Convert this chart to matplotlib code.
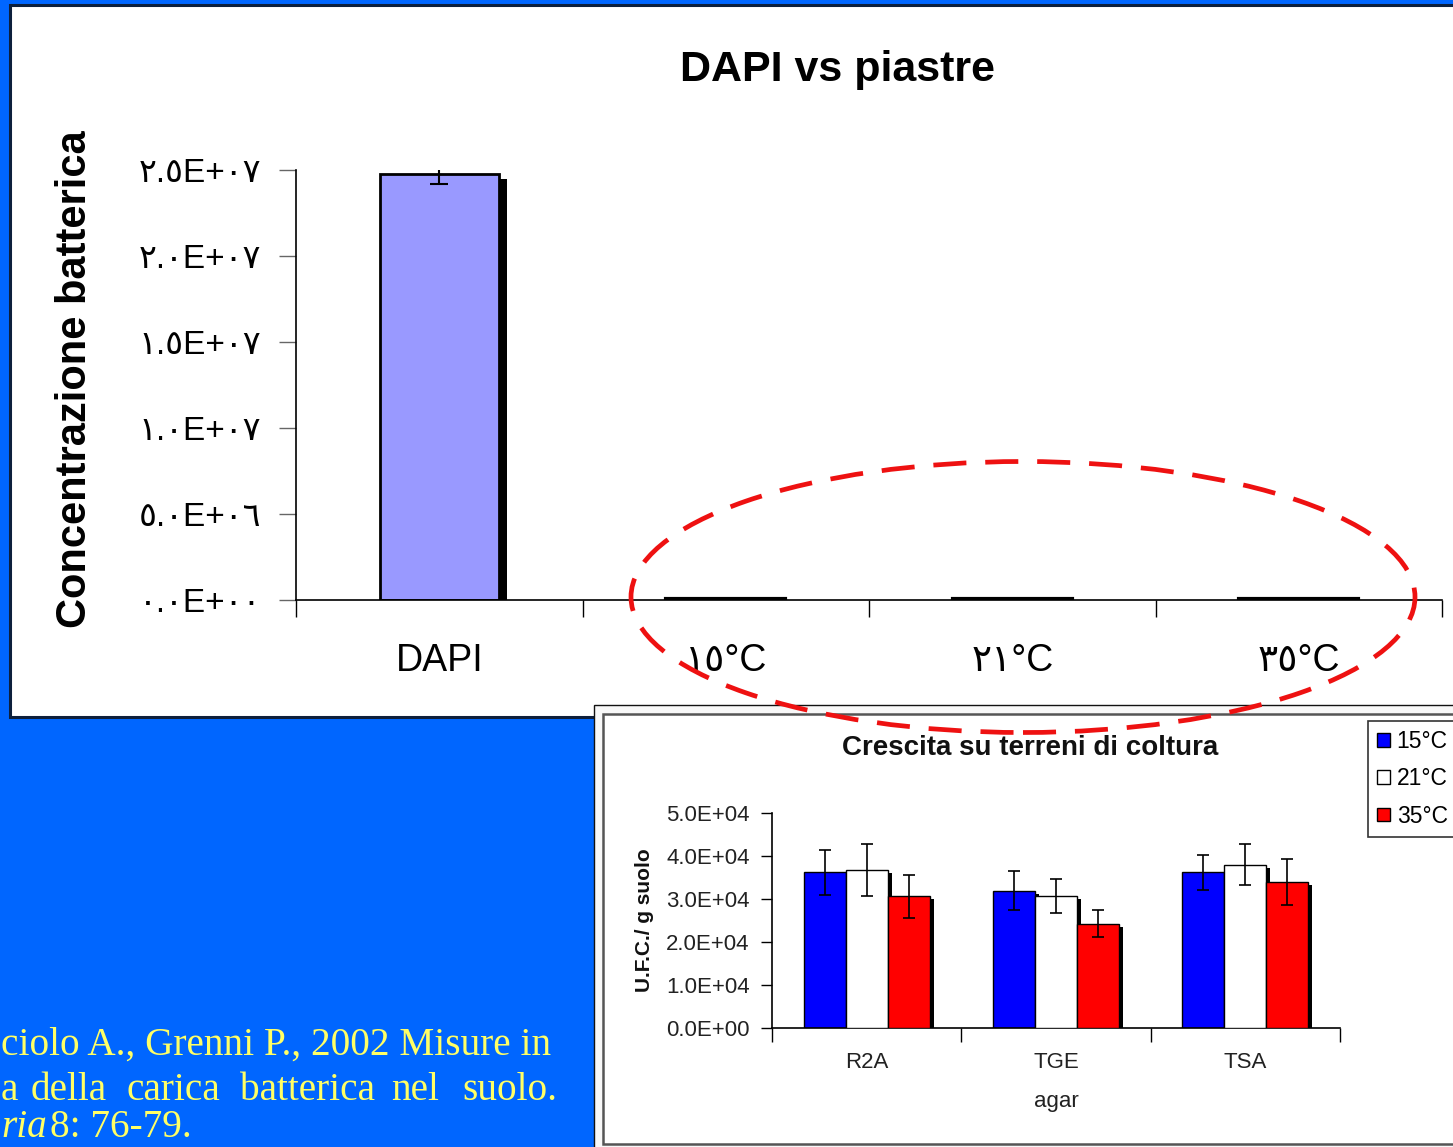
import matplotlib
matplotlib.use("Agg")
import matplotlib.pyplot as plt
import matplotlib.transforms as mtransforms
from matplotlib.patches import Rectangle, Ellipse, Patch
import numpy as np

# main chart data
main_cats = ["DAPI", "١٥°C", "٢١°C", "٣٥°C"]
main_vals = [2.477e7, 3.48e4, 3.52e4, 2.96e4]
main_err = [5.8e5, 0, 0, 0]
main_yticks = [0, 5e6, 1e7, 1.5e7, 2e7, 2.5e7]
main_yticklabels = ["٠.٠E+٠٠", "٥.٠E+٠٦", "١.٠E+٠٧", "١.٥E+٠٧", "٢.٠E+٠٧", "٢.٥E+٠٧"]

# inset chart data
agar = ["R2A", "TGE", "TSA"]
temps = ["15°C", "21°C", "35°C"]
ufc = {
    "15°C": [3.62e4, 3.19e4, 3.62e4],
    "21°C": [3.68e4, 3.07e4, 3.80e4],
    "35°C": [3.06e4, 2.43e4, 3.40e4],
}
ufc_err = {
    "15°C": [5.2e3, 4.5e3, 4.1e3],
    "21°C": [6.0e3, 3.9e3, 4.8e3],
    "35°C": [5.0e3, 3.2e3, 5.4e3],
}
temp_colors = ["#0000FF", "#FFFFFF", "#FF0000"]
inset_yticks = [0, 1e4, 2e4, 3e4, 4e4, 5e4]
inset_yticklabels = ["0.0E+00", "1.0E+04", "2.0E+04", "3.0E+04", "4.0E+04", "5.0E+04"]

W, H = 1453, 1147
fig = plt.figure(figsize=(W / 100, H / 100), dpi=100, facecolor="#0066FF")
fam = ["Liberation Sans", "DejaVu Sans"]


def fx(x):
    return x / W


def fy(y):
    return 1 - y / H


# background panels
fig.add_artist(Rectangle((fx(10), fy(717)), fx(1470 - 10), (717 - 5) / H,
                         transform=fig.transFigure, facecolor="white",
                         edgecolor="#0d1f3c", lw=2.2, zorder=-3))
fig.add_artist(Rectangle((fx(594), fy(1160)), fx(900), (1160 - 705) / H,
                         transform=fig.transFigure, facecolor="#f8f8f8",
                         edgecolor="#111111", lw=1.0, zorder=-2))
fig.add_artist(Rectangle((fx(603), fy(1144)), fx(900), (1144 - 714) / H,
                         transform=fig.transFigure, facecolor="white",
                         edgecolor="#555555", lw=1.8, zorder=-1))

# ---- main chart ----
ax = fig.add_axes([fx(296), fy(600), fx(1442 - 296), (600 - 170) / H])
ax.patch.set_visible(False)
x = np.arange(len(main_cats)) + 0.5
shadow = mtransforms.offset_copy(ax.transData, fig=fig, x=8, y=-5, units="dots")
ax.bar(x, main_vals, width=0.415, color="black", transform=shadow, zorder=1)
ax.bar(x, main_vals, width=0.415, color="#9999FF", edgecolor="black",
       linewidth=[2, 3, 3, 3], zorder=2)
ax.errorbar(x[:1], main_vals[:1], yerr=main_err[:1], fmt="none", ecolor="black",
            elinewidth=1.5, capsize=6.5, capthick=1.5, zorder=3)
ax.set_xlim(0, len(main_cats))
ax.set_ylim(0, 2.5e7)
ax.set_xticks(np.arange(len(main_cats) + 1))
ax.set_xticklabels([])
ax.set_xticks(x, minor=True)
ax.set_xticklabels(main_cats, minor=True, fontsize=27, family=fam)
ax.tick_params(axis="x", which="major", length=12, width=1, direction="out")
ax.tick_params(axis="x", which="minor", length=0, pad=31)
ax.set_yticks(main_yticks)
ax.set_yticklabels(main_yticklabels, fontsize=24, family=fam)
ax.tick_params(axis="y", length=12, width=1, color="#666666", pad=13)
for s in ["top", "right"]:
    ax.spines[s].set_visible(False)
for s in ["left", "bottom"]:
    ax.spines[s].set_linewidth(1.2)
fig.text(fx(838), fy(70), "DAPI vs piastre", fontsize=31, fontweight="bold",
         family=fam, ha="center", va="center")
fig.text(fx(75), fy(379), "Concentrazione batterica", fontsize=30, fontweight="bold",
         family=fam, rotation=90, ha="center", va="center")

# ---- inset chart ----
ax2 = fig.add_axes([fx(772), fy(1028), fx(1340 - 772), (1028 - 813) / H])
ax2.patch.set_visible(False)
xi = np.arange(len(agar)) + 0.5
bw = 0.222
shadow2 = mtransforms.offset_copy(ax2.transData, fig=fig, x=4, y=-3, units="dots")
for i, t in enumerate(temps):
    pos = xi + (i - 1) * bw
    ax2.bar(pos, ufc[t], width=bw, color="black", transform=shadow2, zorder=1)
    ax2.bar(pos, ufc[t], width=bw, color=temp_colors[i], edgecolor="black", lw=1,
            zorder=2 + i, label=t)
    ax2.errorbar(pos, ufc[t], yerr=ufc_err[t], fmt="none", ecolor="black",
                 elinewidth=1.2, capsize=4, capthick=1.2, zorder=6)
ax2.set_xlim(0, len(agar))
ax2.set_ylim(0, 5e4)
ax2.set_xticks(np.arange(len(agar) + 1))
ax2.set_xticklabels([])
ax2.set_xticks(xi, minor=True)
ax2.set_xticklabels(agar, minor=True, fontsize=16, family=fam, color="#222222")
ax2.tick_params(axis="x", which="major", length=10, width=1, direction="out")
ax2.tick_params(axis="x", which="minor", length=0, pad=17)
ax2.set_yticks(inset_yticks)
ax2.set_yticklabels(inset_yticklabels, fontsize=16, family=fam, color="#222222")
ax2.tick_params(axis="y", length=8, width=1, pad=8)
for s in ["top", "right"]:
    ax2.spines[s].set_visible(False)
for s in ["left", "bottom"]:
    ax2.spines[s].set_linewidth(1.2)
fig.text(fx(1030), fy(748), "Crescita su terreni di coltura", fontsize=20,
         fontweight="bold", family=fam, ha="center", va="center", color="#111111")
fig.text(fx(645), fy(920), "U.F.C./ g suolo", fontsize=15, fontweight="bold",
         family=fam, rotation=90, ha="center", va="center", color="#111111")
fig.text(fx(1056), fy(1102), "agar", fontsize=16, family=fam, ha="center",
         va="center", color="#222222")
handles = [Patch(facecolor=c, edgecolor="black", lw=1) for c in temp_colors]
leg = ax2.legend(handles, temps, loc="upper left", bbox_to_anchor=(fx(1368), fy(721)),
                 bbox_transform=fig.transFigure, fancybox=False, edgecolor="#333333",
                 framealpha=1, borderaxespad=0, handlelength=0.55, handleheight=0.55,
                 handletextpad=0.3, labelspacing=0.62, borderpad=0.4,
                 prop={"family": fam, "size": 16.5})
leg.get_frame().set_linewidth(1.2)

# citation text (cut by the slide edge in the original)
cite_kw = dict(color="#FFFF66", family=["Liberation Serif", "DejaVu Serif"], fontsize=28.3)
fig.text(fx(1), fy(1055), "ciolo A., Grenni P., 2002 Misure in", ha="left",
         va="baseline", **cite_kw)
line2 = ["a", "della", "carica", "batterica", "nel", "suolo."]
line2_x = [1, 31, 127, 240, 391, 462]
for w, xx in zip(line2, line2_x):
    fig.text(fx(xx), fy(1100), w, ha="left", va="baseline", **cite_kw)
fig.text(fx(1), fy(1146), "ria", ha="left", va="bottom", style="italic", **cite_kw)
fig.text(fx(50), fy(1146), "8: 76-79.", ha="left", va="bottom", **cite_kw)

# red dashed ellipse highlighting the plate counts
fig.add_artist(Ellipse((fx(1023), fy(597)), fx(784), 271 / H, transform=fig.transFigure,
                       fill=False, edgecolor="#EE1111", lw=3.4,
                       linestyle=(0, (7, 4)), zorder=10))

fig.savefig("out.png", dpi=100, facecolor=fig.get_facecolor())
